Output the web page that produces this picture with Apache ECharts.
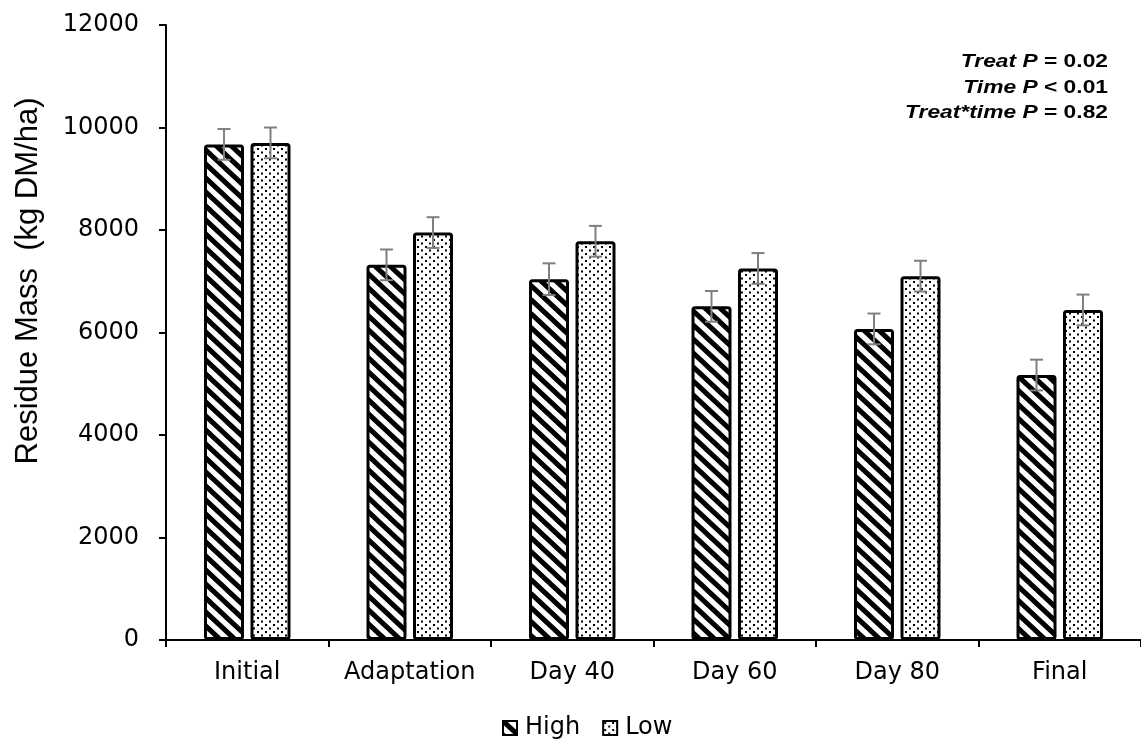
<!DOCTYPE html>
<html>
<head>
<meta charset="utf-8">
<script src="https://cdn.jsdelivr.net/npm/echarts@6/dist/echarts.min.js"></script>
<style>
html,body{margin:0;padding:0;background:#fff;}
#chart{width:1141px;height:747px;}
</style>
</head>
<body>
<div id="chart"></div>
<script>
const categories = ['Initial', 'Adaptation', 'Day 40', 'Day 60', 'Day 80', 'Final'];
const highValues = [9670, 7320, 7040, 6510, 6070, 5170];
const lowValues = [9700, 7950, 7780, 7250, 7100, 6440];
const highErr = [300, 300, 310, 300, 300, 300];
const lowErr = [300, 300, 300, 300, 300, 300];
const yTicks = [0, 2000, 4000, 6000, 8000, 10000, 12000];
const seriesNames = ['High', 'Low'];
const yTitle = 'Residue Mass  (kg DM/ha)';
const statLines = [
  ['Treat P', ' = 0.02'],
  ['Time P', ' < 0.01'],
  ['Treat*time P', ' = 0.82']
];

function stripeCanvas() {
  const w = 15, h = 14;
  const c = document.createElement('canvas');
  c.width = w; c.height = h;
  const g = c.getContext('2d');
  g.fillStyle = '#fff'; g.fillRect(0, 0, w, h);
  g.strokeStyle = '#000'; g.lineWidth = 5;
  g.beginPath();
  for (let k = -1; k <= 1; k++) {
    g.moveTo(k * w - w, -h); g.lineTo(k * w + 2 * w, 2 * h);
  }
  g.stroke();
  return c;
}
function dotCanvas() {
  const w = 8, h = 7;
  const c = document.createElement('canvas');
  c.width = w; c.height = h;
  const g = c.getContext('2d');
  g.fillStyle = '#fff'; g.fillRect(0, 0, w, h);
  g.fillStyle = '#000';
  g.fillRect(1, 1, 2, 2);
  g.fillRect(5, 4.5, 2, 2);
  return c;
}
const stripe = { image: stripeCanvas(), repeat: 'repeat' };
const dots = { image: dotCanvas(), repeat: 'repeat' };

const barWidth = 40;
const barGapPx = 6.5;
const offset = (barWidth + barGapPx) / 2;

function errSeries(vals, errs, dx) {
  return {
    type: 'custom',
    z: 10,
    silent: true,
    data: vals.map((v, i) => [i, v, errs[i]]),
    encode: { x: 0, y: 1 },
    renderItem: function (params, api) {
      const i = api.value(0), v = api.value(1), e = api.value(2);
      const x = api.coord([i, v])[0] + dx;
      const yt = api.coord([i, v + e])[1];
      const yb = api.coord([i, v - e])[1];
      const cw = 6.5;
      const st = { stroke: '#7f7f7f', lineWidth: 2 };
      return {
        type: 'group',
        children: [
          { type: 'line', shape: { x1: x, y1: yt, x2: x, y2: yb }, style: st },
          { type: 'line', shape: { x1: x - cw, y1: yt, x2: x + cw, y2: yt }, style: st },
          { type: 'line', shape: { x1: x - cw, y1: yb, x2: x + cw, y2: yb }, style: st }
        ]
      };
    }
  };
}

const chart = echarts.init(document.getElementById('chart'), null, { renderer: 'canvas' });
const font = 'DejaVu Sans, Liberation Sans, sans-serif';
const arial = 'Liberation Sans, Arial, sans-serif';
const option = {
  animation: false,
  backgroundColor: '#fff',
  textStyle: { fontFamily: font },
  grid: { left: 166, right: -5, top: 25, bottom: 107, containLabel: false },
  legend: {
    data: seriesNames,
    top: 711,
    left: 497,
    itemWidth: 14,
    itemHeight: 14,
    itemGap: 22,
    icon: 'rect',
    textStyle: { fontSize: 24, color: '#000', fontFamily: font, padding: [0, 0, 0, 3] },
    itemStyle: { borderColor: '#000', borderWidth: 2 }
  },
  xAxis: {
    type: 'category',
    data: categories,
    axisLine: { lineStyle: { color: '#000', width: 2 } },
    axisTick: { show: true, length: 7, lineStyle: { color: '#000', width: 2 } },
    axisLabel: { interval: 0, fontSize: 24, color: '#000', margin: 21, fontFamily: font }
  },
  yAxis: {
    type: 'value',
    min: yTicks[0],
    max: yTicks[yTicks.length - 1],
    interval: 2000,
    splitLine: { show: false },
    axisLine: { show: true, lineStyle: { color: '#000', width: 2 } },
    axisTick: { show: true, length: 7, lineStyle: { color: '#000', width: 2 } },
    axisLabel: { fontSize: 24, color: '#000', margin: 27, fontFamily: font, formatter: v => String(v) }
  },
  graphic: [
    {
      type: 'text',
      x: 28,
      y: 281,
      rotation: Math.PI / 2,
      style: {
        text: yTitle,
        fontSize: 31,
        fontFamily: arial,
        fill: '#000',
        align: 'center',
        verticalAlign: 'middle'
      }
    }
  ].concat(statLines.map((l, k) => ({
    type: 'text',
    x: 1108,
    y: 62 + k * 25.5,
    scaleX: 1.2,
    style: {
      text: '{a|' + l[0] + '}{b|' + l[1] + '}',
      align: 'right',
      verticalAlign: 'middle',
      rich: {
        a: { fontSize: 19, fontWeight: 'bold', fontStyle: 'italic', fill: '#000', fontFamily: arial },
        b: { fontSize: 19, fontWeight: 'bold', fill: '#000', fontFamily: arial }
      }
    }
  }))),
  series: [
    {
      name: 'High',
      type: 'bar',
      data: highValues,
      barWidth: barWidth,
      barGap: (barGapPx / barWidth * 100) + '%',
      itemStyle: { color: stripe, borderColor: '#000', borderWidth: 3, borderRadius: 2 }
    },
    {
      name: 'Low',
      type: 'bar',
      data: lowValues,
      barWidth: barWidth,
      itemStyle: { color: dots, borderColor: '#000', borderWidth: 3, borderRadius: 2 }
    },
    errSeries(highValues, highErr, -offset),
    errSeries(lowValues, lowErr, offset)
  ]
};
chart.setOption(option);
</script>
</body>
</html>
